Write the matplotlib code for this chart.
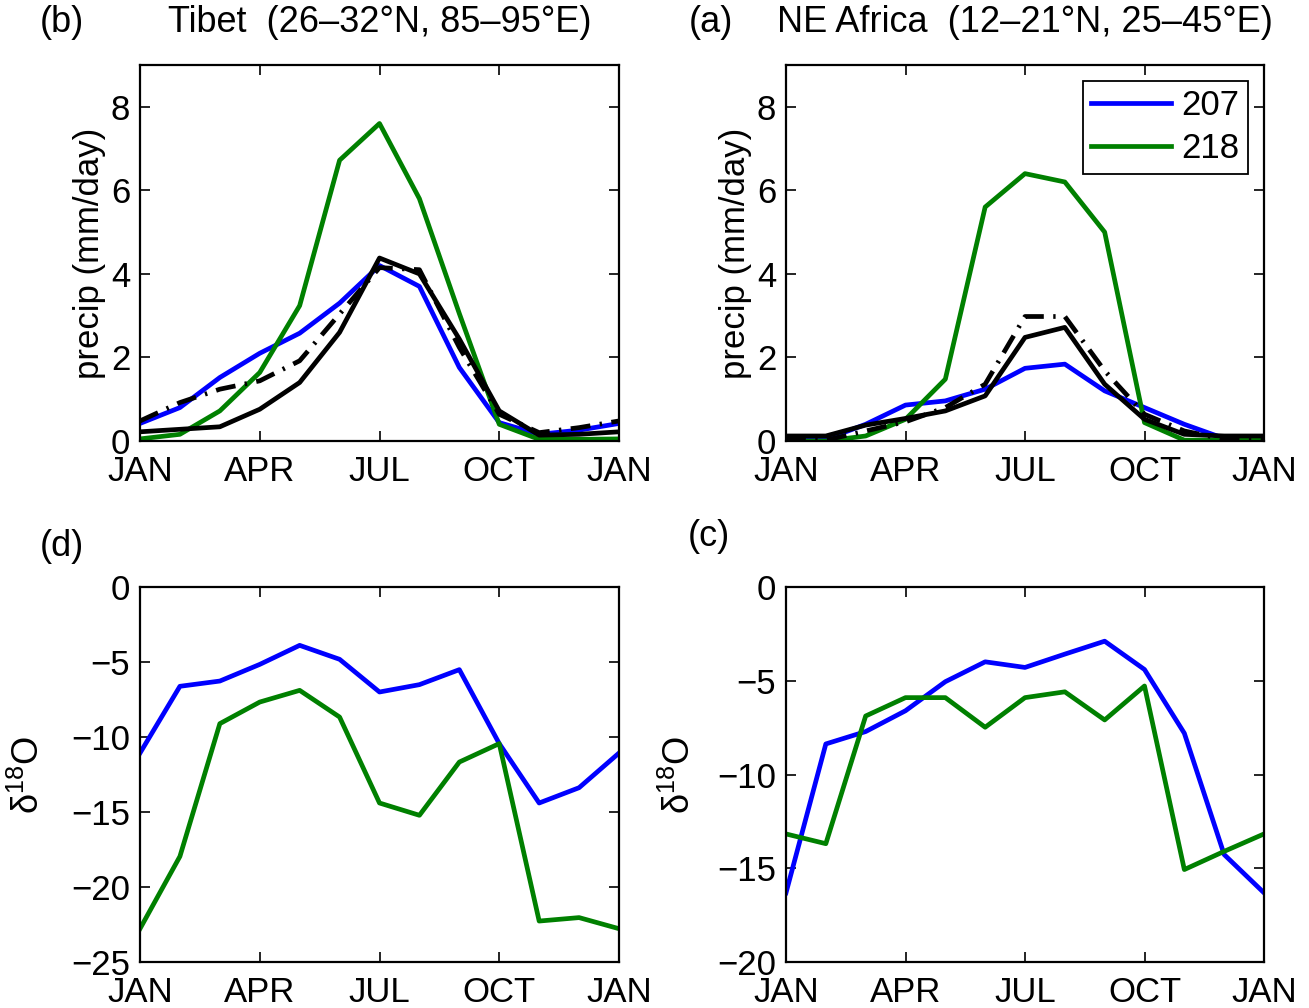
import matplotlib
matplotlib.use("Agg")
import matplotlib.pyplot as plt
from matplotlib.lines import Line2D

plt.rcParams['font.family'] = ['Liberation Sans', 'DejaVu Sans']
plt.rcParams['mathtext.fontset'] = 'custom'
plt.rcParams['mathtext.rm'] = 'Liberation Sans'
plt.rcParams['font.size'] = 25

months = list(range(1, 14))
tick_pos = [1, 4, 7, 10, 13]
tick_labels = ['JAN', 'APR', 'JUL', 'OCT', 'JAN']

# Tibet precipitation (mm/day)
tib_p_207 = [0.42, 0.80, 1.52, 2.10, 2.58, 3.30, 4.20, 3.70, 1.76, 0.44, 0.16, 0.26, 0.42]
tib_p_218 = [0.05, 0.16, 0.72, 1.64, 3.24, 6.72, 7.60, 5.80, 3.05, 0.40, 0.04, 0.04, 0.05]
tib_p_obs1 = [0.22, 0.28, 0.34, 0.76, 1.40, 2.60, 4.38, 4.00, 2.44, 0.72, 0.14, 0.16, 0.22]
tib_p_obs2 = [0.48, 0.92, 1.24, 1.44, 1.92, 3.04, 4.15, 4.10, 2.24, 0.64, 0.20, 0.32, 0.48]

# NE Africa precipitation (mm/day)
afr_p_207 = [0.04, 0.04, 0.40, 0.86, 0.96, 1.24, 1.74, 1.84, 1.20, 0.80, 0.40, 0.06, 0.04]
afr_p_218 = [0.00, 0.00, 0.12, 0.52, 1.48, 5.60, 6.40, 6.20, 5.00, 0.44, 0.02, 0.02, 0.02]
afr_p_obs1 = [0.12, 0.12, 0.38, 0.54, 0.72, 1.08, 2.48, 2.72, 1.36, 0.52, 0.16, 0.12, 0.12]
afr_p_obs2 = [0.04, 0.02, 0.24, 0.46, 0.80, 1.36, 2.98, 2.98, 1.68, 0.64, 0.24, 0.04, 0.04]

# Tibet d18O
tib_d_207 = [-11.07, -6.62, -6.27, -5.16, -3.89, -4.82, -7.00, -6.51, -5.51, -10.44, -14.40, -13.38, -11.07]
tib_d_218 = [-22.78, -17.96, -9.11, -7.67, -6.89, -8.67, -14.40, -15.22, -11.67, -10.44, -22.27, -22.04, -22.78]

# NE Africa d18O
afr_d_207 = [-16.31, -8.37, -7.71, -6.60, -5.05, -3.99, -4.29, -3.58, -2.89, -4.40, -7.80, -14.27, -16.31]
afr_d_218 = [-13.17, -13.69, -6.88, -5.90, -5.90, -7.48, -5.90, -5.59, -7.09, -5.28, -15.07, -14.10, -13.17]

BLUE = (0, 0, 1)
GREEN = (0, 0.5, 0)
LW = 3.4
DASHDOT = (0, (4.2, 2.0, 0.5, 2.0))

W, H = 1309, 1008
fig = plt.figure(figsize=(W / 100, H / 100), dpi=100)


def add_ax(l, r, t, b):
    return fig.add_axes([l / W, 1 - b / H, (r - l) / W, (b - t) / H])


ax_tl = add_ax(140, 619, 65, 441)
ax_tr = add_ax(786, 1264, 65, 441)
ax_bl = add_ax(140, 619, 587, 962)
ax_br = add_ax(786, 1264, 587, 962)


def style(ax):
    ax.set_xlim(1, 13)
    ax.set_xticks(tick_pos)
    ax.set_xticklabels(tick_labels)
    ax.tick_params(direction='in', length=7, width=1.2, top=True, right=True,
                   labelsize=25)
    ax.tick_params(axis='x', pad=10)
    ax.tick_params(axis='y', pad=7)
    for s in ax.spines.values():
        s.set_linewidth(1.6)


for ax, p207, p218, o1, o2 in [(ax_tl, tib_p_207, tib_p_218, tib_p_obs1, tib_p_obs2),
                               (ax_tr, afr_p_207, afr_p_218, afr_p_obs1, afr_p_obs2)]:
    ax.plot(months, p207, color=BLUE, lw=LW)
    ax.plot(months, p218, color=GREEN, lw=LW)
    ax.plot(months, o2, color='k', lw=LW, linestyle=DASHDOT)
    ax.plot(months, o1, color='k', lw=LW)
    style(ax)
    ax.set_ylim(0, 9)
    ax.set_yticks([0, 2, 4, 6, 8])
    ax.set_yticklabels(['0', '2', '4', '6', '8'])
    ax.set_ylabel('precip (mm/day)', fontsize=25)
    ax.yaxis.set_label_coords(-0.072, 0.5)

for ax, d207, d218, lo, xl in [(ax_bl, tib_d_207, tib_d_218, -25, -0.194),
                               (ax_br, afr_d_207, afr_d_218, -20, -0.184)]:
    ax.plot(months, d207, color=BLUE, lw=LW)
    ax.plot(months, d218, color=GREEN, lw=LW)
    style(ax)
    ax.set_ylim(lo, 0)
    ax.set_yticks(list(range(lo, 1, 5)))
    ax.set_yticklabels(['\u2212%d' % (-v) if v < 0 else '0' for v in range(lo, 1, 5)])
    ax.set_ylabel('\u03b4$^{18}$O', fontsize=26)
    ax.yaxis.set_label_coords(xl, 0.5)

handles = [Line2D([], [], color=BLUE, lw=LW), Line2D([], [], color=GREEN, lw=LW)]
leg = ax_tr.legend(handles, ['207', '218'], loc='upper right', fontsize=25,
                   frameon=True, fancybox=False, edgecolor='k', framealpha=1,
                   handlelength=2.3, handletextpad=0.3, borderpad=0.25,
                   labelspacing=0.28, borderaxespad=0.45)
leg.get_frame().set_linewidth(1.3)

fig.text(40 / W, 1 - 22 / H, '(b)', ha='left', va='center', fontsize=26)
fig.text(379.5 / W, 1 - 22 / H, 'Tibet  (26\u201332\u00b0N, 85\u201395\u00b0E)',
         ha='center', va='center', fontsize=26)
fig.text(689 / W, 1 - 22 / H, '(a)', ha='left', va='center', fontsize=26)
fig.text(1025 / W, 1 - 22 / H, 'NE Africa  (12\u201321\u00b0N, 25\u201345\u00b0E)',
         ha='center', va='center', fontsize=26)
fig.text(40 / W, 1 - 546 / H, '(d)', ha='left', va='center', fontsize=26)
fig.text(688 / W, 1 - 536 / H, '(c)', ha='left', va='center', fontsize=26)

fig.savefig('out.png', dpi=100)
